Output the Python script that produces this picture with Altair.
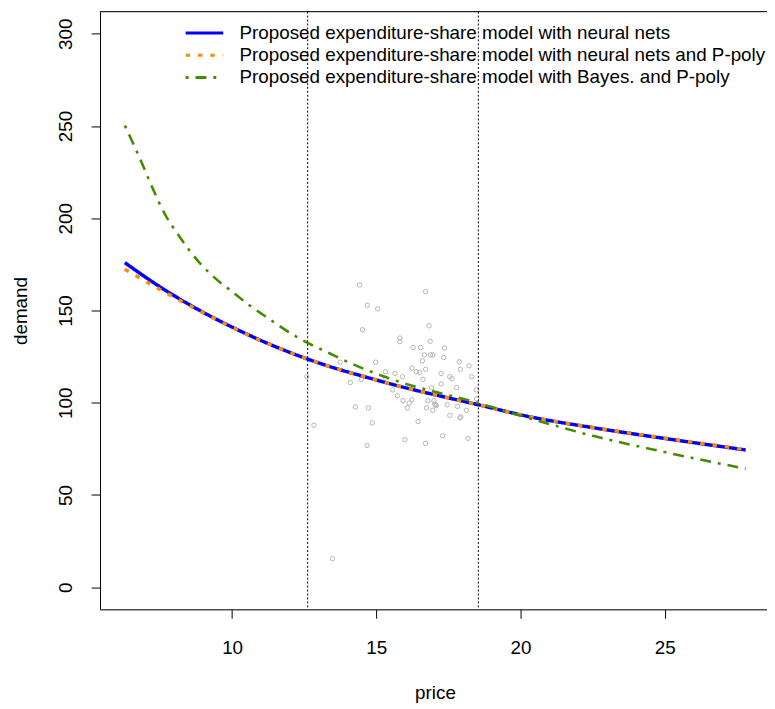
import altair as alt
import pandas as pd

# ---- data ----
S1 = "Proposed expenditure-share model with neural nets"
S2 = "Proposed expenditure-share model with neural nets and P-poly"
S3 = "Proposed expenditure-share model with Bayes. and P-poly"
series_names = [S1, S2, S3]
series_colors = ["#0000FF", "#FF8C00", "#458B00"]
series_dash = [[1, 0], [4.5, 8], [3, 7, 11, 7]]

nn_price = [6.28, 7.68, 8.82, 9.96, 11.11, 12.25, 13.39, 14.53, 15.62, 18.54, 20.26, 22.55, 24.84, 27.81]
nn_demand = [175.9, 161.0, 150.5, 141.3, 133.0, 125.8, 119.6, 114.4, 109.7, 98.9, 92.6, 86.4, 81.0, 74.4]

pp_price = [6.28, 7.68, 8.82, 9.96, 11.11, 12.25, 13.39, 14.53, 15.62, 18.54, 20.26, 22.55, 24.84, 27.81]
pp_demand = [172.3, 159.8, 150.2, 141.1, 132.9, 125.8, 119.6, 114.4, 109.7, 98.9, 92.6, 86.5, 81.2, 74.6]

bayes_price = [6.28, 6.87, 7.22, 7.68, 8.13, 8.82, 9.39, 9.96, 10.54, 11.11, 12.25, 13.39, 14.53,
               15.62, 18.54, 20.26, 22.55, 24.84, 27.81]
bayes_demand = [250.2, 230.0, 217.1, 201.9, 191.1, 176.8, 167.8, 160.7, 153.5, 147.3, 135.6, 126.7, 118.6,
                112.3, 99.8, 91.8, 81.9, 73.8, 64.2]

obs_price = [14.42, 14.69, 15.05, 14.52, 14.98, 13.75, 15.32, 15.65, 12.59, 14.10, 14.48, 15.57, 14.27,
             14.73, 14.86, 12.84, 14.68, 13.48, 16.71, 16.83, 15.82, 15.82, 16.87, 16.28, 16.54, 17.37,
             16.67, 16.88, 16.96, 17.34, 16.60, 17.88, 18.22, 16.24, 16.71, 16.39, 16.51, 17.91, 17.25,
             15.91, 18.31, 17.55, 17.63, 16.62, 17.25, 17.79, 16.92, 18.47, 15.93, 16.23, 16.14, 16.08,
             16.79, 17.00, 17.03, 17.08, 17.46, 17.82, 16.74, 16.96, 18.13, 17.55, 17.90, 16.45, 17.30,
             18.18, 15.99, 16.71, 18.48, 15.73, 15.32, 17.93, 17.05]
obs_demand = [163.9, 152.8, 150.9, 139.6, 122.0, 122.0, 116.8, 115.9, 114.1, 110.9, 112.7, 107.0, 97.7,
              97.2, 89.1, 87.8, 76.9, 15.5, 160.2, 141.7, 135.1, 133.1, 133.3, 129.9, 129.9, 129.7,
              125.9, 125.9, 125.9, 124.5, 122.7, 122.2, 120.0, 118.8, 118.1, 116.8, 116.5, 118.1, 115.9,
              114.1, 114.1, 114.1, 113.0, 112.7, 110.2, 108.2, 108.1, 107.0, 101.1, 101.6, 99.8, 97.2,
              101.1, 101.1, 99.3, 98.4, 98.9, 98.0, 97.2, 95.9, 95.9, 93.2, 91.8, 89.8, 82.1,
              80.7, 80.0, 78.0, 102.1, 103.8, 113.3, 92.3, 98.9]

vline_price = [12.62, 18.54]

x_ticks = [10, 15, 20, 25]
y_ticks = [0, 50, 100, 150, 200, 250, 300]

# ---- tables ----
curves = pd.concat([
    pd.DataFrame({"price": nn_price, "demand": nn_demand, "series": S1, "k": 0}),
    pd.DataFrame({"price": pp_price, "demand": pp_demand, "series": S2, "k": 1}),
    pd.DataFrame({"price": bayes_price, "demand": bayes_demand, "series": S3, "k": 2}),
], ignore_index=True)
obs = pd.DataFrame({"price": obs_price, "demand": obs_demand})
vlines = pd.DataFrame({"price": vline_price})

W, H = 674, 604
FONT = "Liberation Sans"
FS = 19

xscale = alt.Scale(domain=[5.42, 28.55], nice=False, zero=False)
yscale = alt.Scale(domain=[-12, 312], nice=False, zero=False)

xaxis = alt.Axis(values=x_ticks, title="price", grid=False, tickSize=9, labelPadding=20.5,
                 labelFontSize=FS, titleFontSize=FS, titleFontWeight="normal",
                 labelBaseline="top", labelAngle=0, labelFlush=False,
                 titleX=338.5, titleY=90.5, titleBaseline="alphabetic", titleAlign="center",
                 domainColor="black", tickColor="black", labelColor="black", titleColor="black",
                 labelFont=FONT, titleFont=FONT, format="d")
yaxis = alt.Axis(values=y_ticks, title="demand", grid=False, tickSize=9, labelPadding=20.3,
                 labelFontSize=FS, titleFontSize=FS, titleFontWeight="normal",
                 labelAngle=270, labelAlign="center", labelBaseline="alphabetic", labelFlush=False,
                 titleAngle=270, titleX=-74, titleY=302, titleBaseline="alphabetic", titleAlign="center",
                 domainColor="black", tickColor="black", labelColor="black", titleColor="black",
                 labelFont=FONT, titleFont=FONT, format="d")

leg = alt.Legend(title=None, orient="none", legendX=94.5, legendY=10.5,
                 symbolType="M-2,0H2", symbolSize=361, symbolStrokeWidth=3,
                 labelFontSize=FS, labelFont=FONT, labelColor="black", labelOffset=24.5,
                 labelLimit=700, rowPadding=1.5, padding=0)

color_enc = alt.Color("series:N", scale=alt.Scale(domain=series_names, range=series_colors), legend=leg)
dash_enc = alt.StrokeDash("series:N", scale=alt.Scale(domain=series_names, range=series_dash), legend=leg)

X = alt.X("price:Q", scale=xscale, axis=xaxis)
Y = alt.Y("demand:Q", scale=yscale, axis=yaxis)

points = alt.Chart(obs).mark_point(shape="circle", filled=False, color="#B4B4B4",
                                   size=20, strokeWidth=1, opacity=1).encode(x=X, y=Y)

vrules = alt.Chart(vlines).mark_rule(color="black", strokeWidth=1, strokeDash=[2, 2]).encode(x=X)

def curve(k, width):
    return alt.Chart(curves).transform_filter(alt.datum.k == k).mark_line(
        strokeWidth=width, interpolate="monotone", clip=True
    ).encode(x=X, y=Y, color=color_enc, strokeDash=dash_enc, order="price:Q")

topline = alt.Chart(pd.DataFrame({"z": [0]})).mark_rule(color="black", strokeWidth=1).encode(
    x=alt.value(0), x2=alt.value(W), y=alt.value(0))

chart = alt.layer(points, vrules, curve(0, 3.5), curve(1, 3.5), curve(2, 2.6), topline).properties(
    width=W, height=H,
    autosize=alt.AutoSizeParams(type="none"),
    padding={"left": 93, "top": 0, "right": 0, "bottom": 94},
).configure_view(stroke=None).configure(font=FONT, background="white")

chart.save("out.html", embed_options={"renderer": "svg", "actions": False})
